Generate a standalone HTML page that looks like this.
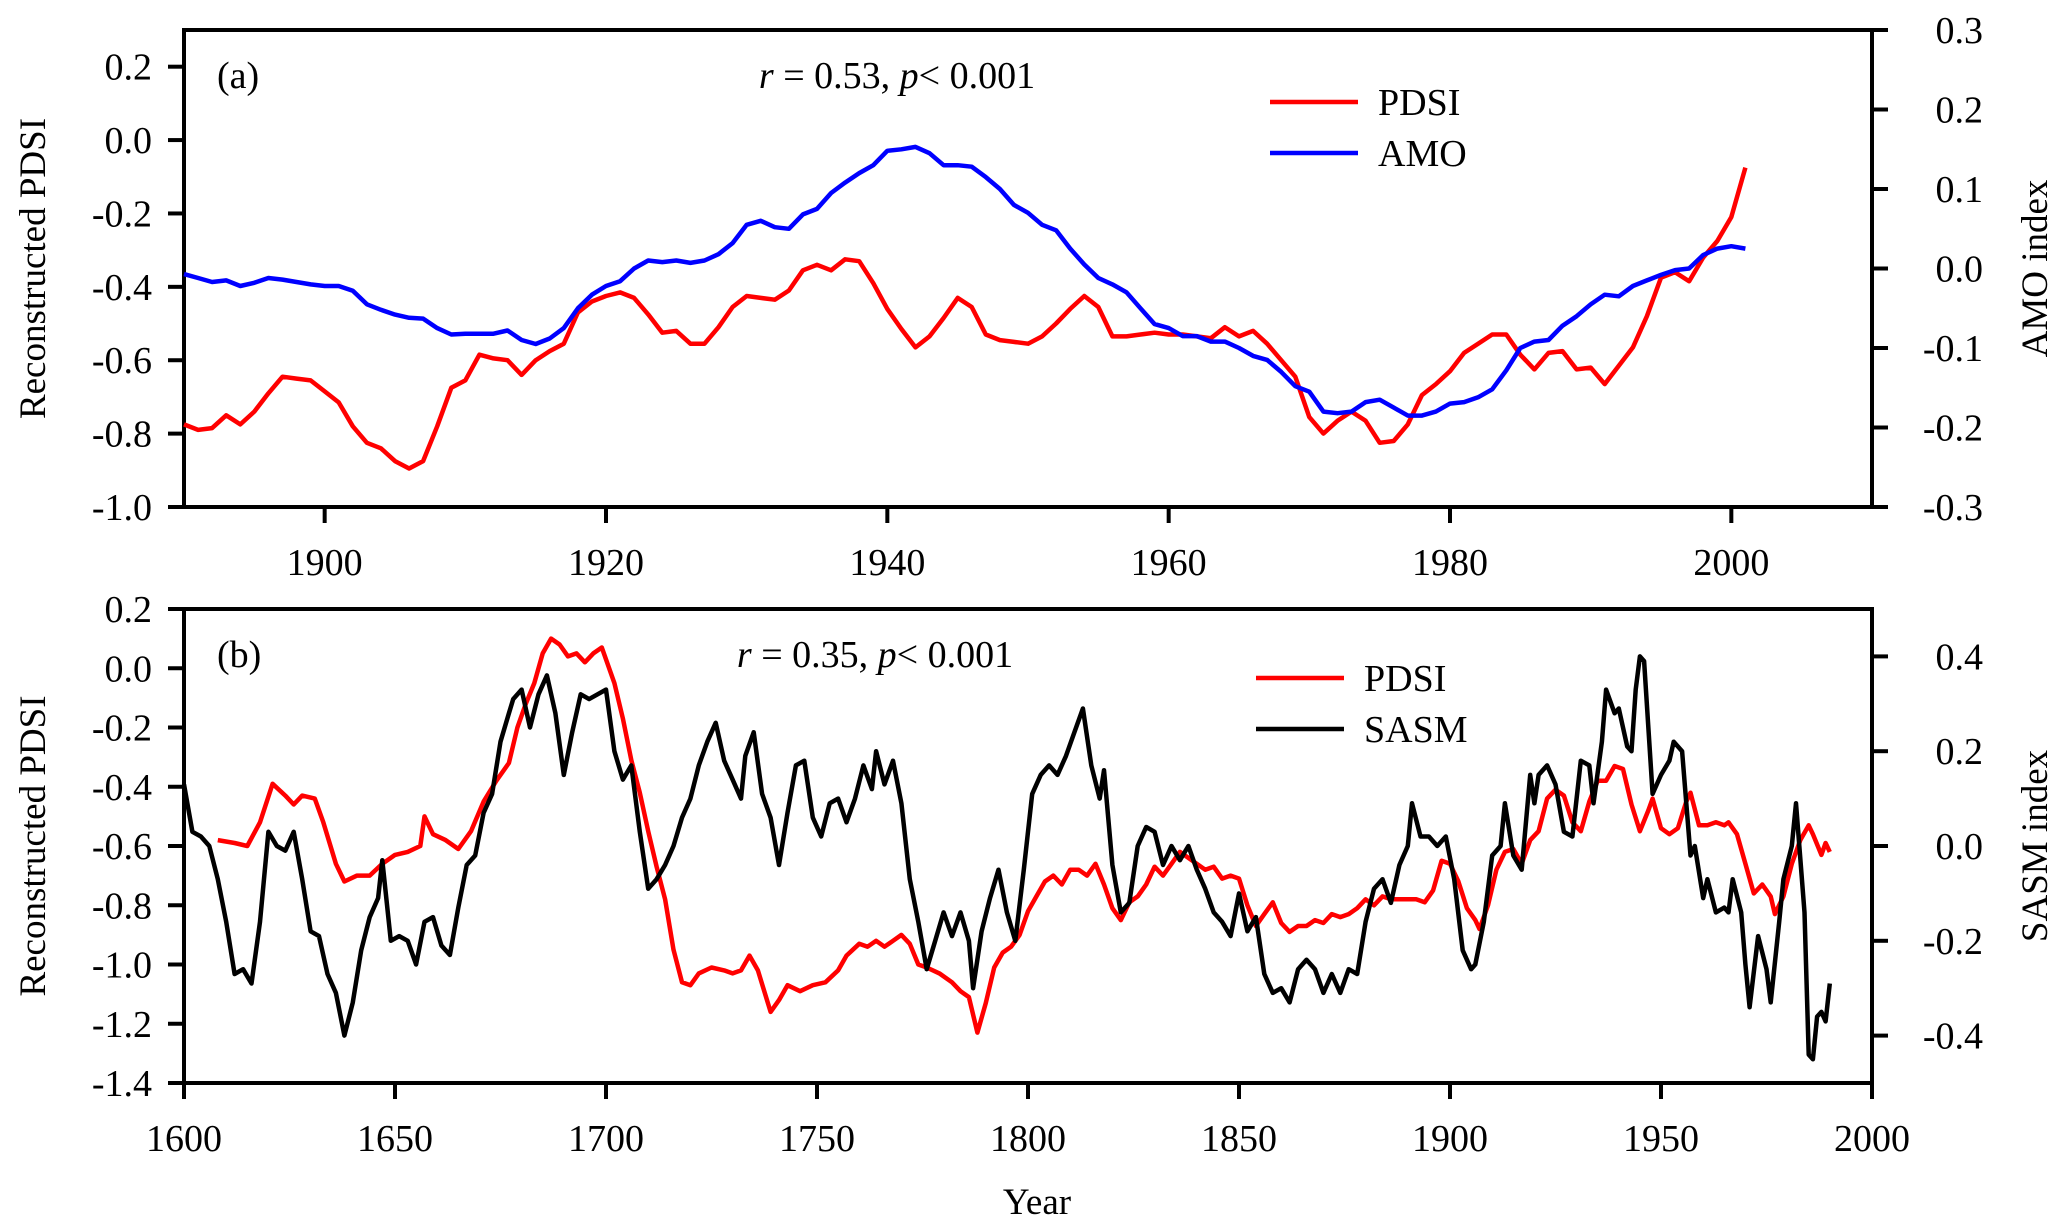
<!DOCTYPE html>
<html><head><meta charset="utf-8"><style>
html,body{margin:0;padding:0;background:#fff;}
svg{display:block;font-family:"Liberation Serif",serif;}
</style></head><body>
<svg id="chart" width="2067" height="1230" viewBox="0 0 2067 1230" xmlns="http://www.w3.org/2000/svg"></svg>
<script>
// ---------- Panel (a) data ----------
const yearsA = [];
for (let y = 1890; y <= 2001; y++) yearsA.push(y);
const pdsiA = [-0.775,-0.79,-0.785,-0.75,-0.775,-0.74,-0.69,-0.645,-0.65,-0.655,-0.685,-0.715,-0.78,-0.825,-0.84,-0.875,-0.895,-0.875,-0.78,-0.675,-0.655,-0.585,-0.595,-0.6,-0.64,-0.6,-0.575,-0.555,-0.47,-0.44,-0.425,-0.415,-0.43,-0.475,-0.525,-0.52,-0.555,-0.555,-0.51,-0.455,-0.425,-0.43,-0.435,-0.41,-0.355,-0.34,-0.355,-0.325,-0.33,-0.39,-0.46,-0.515,-0.565,-0.535,-0.485,-0.43,-0.455,-0.53,-0.545,-0.55,-0.555,-0.535,-0.5,-0.46,-0.425,-0.455,-0.535,-0.535,-0.53,-0.525,-0.53,-0.53,-0.535,-0.54,-0.51,-0.535,-0.52,-0.555,-0.6,-0.645,-0.755,-0.8,-0.765,-0.74,-0.765,-0.825,-0.82,-0.775,-0.695,-0.665,-0.63,-0.58,-0.555,-0.53,-0.53,-0.585,-0.625,-0.58,-0.575,-0.625,-0.62,-0.665,-0.615,-0.565,-0.48,-0.375,-0.36,-0.385,-0.32,-0.275,-0.21,-0.075];
const amoA = [-0.007,-0.012,-0.017,-0.015,-0.022,-0.018,-0.012,-0.014,-0.017,-0.02,-0.022,-0.022,-0.028,-0.045,-0.052,-0.058,-0.062,-0.063,-0.075,-0.083,-0.082,-0.082,-0.082,-0.078,-0.09,-0.095,-0.088,-0.075,-0.05,-0.033,-0.022,-0.016,0.0,0.01,0.008,0.01,0.007,0.01,0.018,0.032,0.055,0.06,0.052,0.05,0.068,0.075,0.095,0.108,0.12,0.13,0.148,0.15,0.153,0.145,0.13,0.13,0.128,0.115,0.1,0.08,0.07,0.055,0.048,0.025,0.005,-0.012,-0.02,-0.03,-0.05,-0.07,-0.075,-0.085,-0.085,-0.092,-0.092,-0.1,-0.11,-0.115,-0.13,-0.148,-0.155,-0.18,-0.182,-0.18,-0.168,-0.165,-0.175,-0.185,-0.185,-0.18,-0.17,-0.168,-0.162,-0.152,-0.128,-0.1,-0.092,-0.09,-0.072,-0.06,-0.045,-0.033,-0.035,-0.022,-0.015,-0.008,-0.002,0.0,0.017,0.025,0.028,0.025];
const xTicksA = [1900,1920,1940,1960,1980,2000];
const yTicksAL = [-1.0,-0.8,-0.6,-0.4,-0.2,0.0,0.2];
const yTicksAR = [-0.3,-0.2,-0.1,0.0,0.1,0.2,0.3];

// ---------- Panel (b) data ----------
const yearsPB = [1608,1612,1615,1618,1621,1624,1626,1628,1631,1633,1636,1638,1641,1644,1647,1650,1653,1656,1657,1659,1662,1665,1668,1671,1674,1677,1679,1681,1683,1685,1687,1689,1691,1693,1695,1697,1699,1702,1704,1706,1708,1710,1712,1714,1716,1718,1720,1722,1725,1728,1730,1732,1734,1736,1739,1741,1743,1746,1749,1752,1755,1757,1760,1762,1764,1766,1768,1770,1772,1774,1776,1779,1782,1784,1786,1788,1790,1792,1794,1796,1798,1800,1802,1804,1806,1808,1810,1812,1814,1816,1818,1820,1822,1824,1826,1828,1830,1832,1834,1836,1838,1840,1842,1844,1846,1848,1850,1852,1854,1856,1858,1860,1862,1864,1866,1868,1870,1872,1874,1876,1878,1880,1882,1884,1886,1888,1890,1892,1894,1896,1898,1900,1902,1904,1906,1907,1909,1911,1913,1915,1917,1919,1921,1923,1925,1927,1929,1931,1933,1935,1937,1939,1941,1943,1945,1947,1948,1950,1952,1954,1956,1957,1959,1961,1963,1965,1966,1968,1970,1972,1974,1976,1977,1979,1981,1983,1985,1986,1988,1989,1990];
const pdsiB = [-0.58,-0.59,-0.6,-0.52,-0.39,-0.43,-0.46,-0.43,-0.44,-0.52,-0.66,-0.72,-0.7,-0.7,-0.66,-0.63,-0.62,-0.6,-0.5,-0.56,-0.58,-0.61,-0.55,-0.45,-0.38,-0.32,-0.2,-0.12,-0.05,0.05,0.1,0.08,0.04,0.05,0.02,0.05,0.07,-0.05,-0.17,-0.31,-0.42,-0.55,-0.67,-0.78,-0.95,-1.06,-1.07,-1.03,-1.01,-1.02,-1.03,-1.02,-0.97,-1.02,-1.16,-1.12,-1.07,-1.09,-1.07,-1.06,-1.02,-0.97,-0.93,-0.94,-0.92,-0.94,-0.92,-0.9,-0.93,-1.0,-1.01,-1.03,-1.06,-1.09,-1.11,-1.23,-1.13,-1.01,-0.96,-0.94,-0.9,-0.82,-0.77,-0.72,-0.7,-0.73,-0.68,-0.68,-0.7,-0.66,-0.73,-0.81,-0.85,-0.79,-0.77,-0.73,-0.67,-0.7,-0.66,-0.62,-0.64,-0.66,-0.68,-0.67,-0.71,-0.7,-0.71,-0.8,-0.87,-0.83,-0.79,-0.86,-0.89,-0.87,-0.87,-0.85,-0.86,-0.83,-0.84,-0.83,-0.81,-0.78,-0.8,-0.77,-0.78,-0.78,-0.78,-0.78,-0.79,-0.75,-0.65,-0.66,-0.72,-0.81,-0.85,-0.88,-0.8,-0.68,-0.62,-0.61,-0.66,-0.58,-0.55,-0.44,-0.41,-0.43,-0.52,-0.55,-0.45,-0.38,-0.38,-0.33,-0.34,-0.46,-0.55,-0.48,-0.44,-0.54,-0.56,-0.54,-0.45,-0.42,-0.53,-0.53,-0.52,-0.53,-0.52,-0.56,-0.66,-0.76,-0.73,-0.77,-0.83,-0.77,-0.66,-0.58,-0.53,-0.56,-0.63,-0.59,-0.62];
const yearsSB = [1600,1602,1604,1606,1608,1610,1612,1614,1616,1618,1620,1622,1624,1626,1628,1630,1632,1634,1636,1638,1640,1642,1644,1646,1647,1649,1651,1653,1655,1657,1659,1661,1663,1665,1667,1669,1671,1673,1675,1677,1678,1680,1682,1684,1686,1688,1690,1692,1694,1696,1698,1700,1702,1704,1706,1708,1710,1712,1714,1716,1718,1720,1722,1724,1726,1728,1730,1732,1733,1735,1737,1739,1741,1743,1745,1747,1749,1751,1753,1755,1757,1759,1761,1763,1764,1766,1768,1770,1772,1774,1776,1778,1780,1782,1784,1786,1787,1789,1791,1793,1795,1797,1799,1801,1803,1805,1807,1809,1811,1813,1815,1817,1818,1820,1822,1824,1826,1828,1830,1832,1834,1836,1838,1840,1842,1844,1846,1848,1850,1852,1854,1856,1858,1860,1862,1864,1866,1868,1870,1872,1874,1876,1878,1880,1882,1884,1886,1888,1890,1891,1893,1895,1897,1899,1901,1903,1905,1906,1908,1910,1912,1913,1915,1917,1919,1920,1921,1923,1925,1927,1929,1931,1933,1934,1936,1937,1939,1940,1942,1943,1944,1945,1946,1948,1950,1952,1953,1955,1957,1958,1960,1961,1963,1965,1966,1967,1969,1970,1971,1973,1975,1976,1978,1979,1981,1982,1984,1985,1986,1987,1988,1989,1990];
const sasmB = [0.13,0.03,0.02,0.0,-0.07,-0.16,-0.27,-0.26,-0.29,-0.16,0.03,0.0,-0.01,0.03,-0.07,-0.18,-0.19,-0.27,-0.31,-0.4,-0.33,-0.22,-0.15,-0.11,-0.03,-0.2,-0.19,-0.2,-0.25,-0.16,-0.15,-0.21,-0.23,-0.13,-0.04,-0.02,0.07,0.11,0.22,0.28,0.31,0.33,0.25,0.32,0.36,0.28,0.15,0.24,0.32,0.31,0.32,0.33,0.2,0.14,0.17,0.03,-0.09,-0.07,-0.04,0.0,0.06,0.1,0.17,0.22,0.26,0.18,0.14,0.1,0.19,0.24,0.11,0.06,-0.04,0.07,0.17,0.18,0.06,0.02,0.09,0.1,0.05,0.1,0.17,0.12,0.2,0.13,0.18,0.09,-0.07,-0.16,-0.26,-0.2,-0.14,-0.19,-0.14,-0.2,-0.3,-0.18,-0.11,-0.05,-0.14,-0.2,-0.05,0.11,0.15,0.17,0.15,0.19,0.24,0.29,0.17,0.1,0.16,-0.04,-0.14,-0.12,0.0,0.04,0.03,-0.04,0.0,-0.03,0.0,-0.05,-0.09,-0.14,-0.16,-0.19,-0.1,-0.18,-0.15,-0.27,-0.31,-0.3,-0.33,-0.26,-0.24,-0.26,-0.31,-0.27,-0.31,-0.26,-0.27,-0.16,-0.09,-0.07,-0.12,-0.04,0.0,0.09,0.02,0.02,0.0,0.02,-0.07,-0.22,-0.26,-0.25,-0.16,-0.02,0.0,0.09,-0.02,-0.05,0.15,0.09,0.15,0.17,0.13,0.03,0.02,0.18,0.17,0.09,0.22,0.33,0.28,0.29,0.21,0.2,0.33,0.4,0.39,0.11,0.15,0.18,0.22,0.2,-0.02,0.0,-0.11,-0.07,-0.14,-0.13,-0.14,-0.07,-0.14,-0.25,-0.34,-0.19,-0.26,-0.33,-0.16,-0.07,0.0,0.09,-0.14,-0.44,-0.45,-0.36,-0.35,-0.37,-0.29];
const xTicksB = [1600,1650,1700,1750,1800,1850,1900,1950,2000];
const yTicksBL = [-1.4,-1.2,-1.0,-0.8,-0.6,-0.4,-0.2,0.0,0.2];
const yTicksBR = [-0.4,-0.2,0.0,0.2,0.4];

const NS = 'http://www.w3.org/2000/svg';
const svg = document.getElementById('chart');
function mk(tag, attrs, parent) {
  const e = document.createElementNS(NS, tag);
  for (const k in attrs) e.setAttribute(k, attrs[k]);
  (parent || svg).appendChild(e);
  return e;
}
function fmt(v){ return (v < 0 ? '-' : '') + Math.abs(v).toFixed(1); }

const L = 184, R = 1872;
const FS = 38;
function linScale(d0, d1, r0, r1){ return v => r0 + (v - d0) * (r1 - r0) / (d1 - d0); }

function panel(cfg) {
  const g = mk('g', {});
  
  
  const x = linScale(cfg.x0, cfg.x1, L, R);
  const yl = linScale(cfg.yl0, cfg.yl1, cfg.bottom, cfg.top);
  const yr = linScale(cfg.yr0, cfg.yr1, cfg.bottom, cfg.top);
  const fr = mk('rect', {x:L, y:cfg.top, width:R-L, height:cfg.bottom-cfg.top, fill:'none', stroke:'#000', 'stroke-width':4}, g);
  
  
  cfg.xTicks.forEach(t => {
    const px = x(t);
    mk('line', {x1:px, x2:px, y1:cfg.bottom, y2:cfg.bottom+16, stroke:'#000', 'stroke-width':4}, g);
    const tx = mk('text', {x:px, y:cfg.bottom+68, 'font-size':FS, 'text-anchor':'middle'}, g);
    tx.textContent = t;
    
    
  });
  cfg.ylTicks.forEach(t => {
    const py = yl(t);
    mk('line', {x1:L-16, x2:L, y1:py, y2:py, stroke:'#000', 'stroke-width':4}, g);
    const tx = mk('text', {x:L-32, y:py+13, 'font-size':FS, 'text-anchor':'end'}, g);
    tx.textContent = fmt(t);
    
    
  });
  cfg.yrTicks.forEach(t => {
    const py = yr(t);
    mk('line', {x1:R, x2:R+16, y1:py, y2:py, stroke:'#000', 'stroke-width':4}, g);
    const tx = mk('text', {x:R+111, y:py+13, 'font-size':FS, 'text-anchor':'end'}, g);
    tx.textContent = fmt(t);
    
    
  });
  const mid = (cfg.top + cfg.bottom) / 2;
  const lt = mk('text', {x:0, y:0, 'font-size':37, 'text-anchor':'middle', transform:`translate(45,${mid}) rotate(-90)`}, g);
  lt.textContent = 'Reconstructed PDSI';
  
  
  const rt = mk('text', {x:0, y:0, 'font-size':37, 'text-anchor':'middle', transform:`translate(2047,${mid}) rotate(-90)`}, g);
  rt.textContent = cfg.rightTitle;
  
  
  cfg.series.forEach(s => {
    const sc = s.axis === 'left' ? yl : yr;
    const d = s.years.map((yy, i) => (i ? 'L' : 'M') + x(yy).toFixed(1) + ',' + sc(s.values[i]).toFixed(1)).join(' ');
    const p = mk('path', {d:d, fill:'none', stroke:s.color, 'stroke-width':4.5, 'stroke-linejoin':'round'}, g);
    
    
  });
  const pl = mk('text', {x:217, y:cfg.top+58, 'font-size':FS}, g);
  pl.textContent = cfg.label;
  
  
  const st = mk('text', {x:cfg.statX, y:cfg.top+58, 'font-size':FS, 'text-anchor':'middle'}, g);
  st.innerHTML = '<tspan font-style="italic">r</tspan> = ' + cfg.r + ', <tspan font-style="italic">p</tspan>&lt; 0.001';
  
  
  cfg.series.forEach((s, i) => {
    const ly = cfg.legY + i * 51;
    const lg = mk('g', {}, g);
    
    
    mk('line', {x1:cfg.legX, x2:cfg.legX+88, y1:ly, y2:ly, stroke:s.color, 'stroke-width':4.5}, lg);
    const t = mk('text', {x:cfg.legX+108, y:ly+13, 'font-size':FS}, lg);
    t.textContent = s.label;
  });
}

panel({name:'panel-a', top:30, bottom:507, x0:1890, x1:2010, yl0:-1.0, yl1:0.3, yr0:-0.3, yr1:0.3,
  xTicks:xTicksA, ylTicks:yTicksAL, yrTicks:yTicksAR, rightTitle:'AMO index', label:'(a)', r:'0.53', statX:897,
  legX:1270, legY:102,
  series:[{name:'pdsi-line-a', label:'PDSI', years:yearsA, values:pdsiA, color:'#ff0000', axis:'left'},
          {name:'amo-line', label:'AMO', years:yearsA, values:amoA, color:'#0000ff', axis:'right'}]});
panel({name:'panel-b', top:609, bottom:1083, x0:1600, x1:2000, yl0:-1.4, yl1:0.2, yr0:-0.5, yr1:0.5,
  xTicks:xTicksB, ylTicks:yTicksBL, yrTicks:yTicksBR, rightTitle:'SASM index', label:'(b)', r:'0.35', statX:875,
  legX:1256, legY:678,
  series:[{name:'pdsi-line-b', label:'PDSI', years:yearsPB, values:pdsiB, color:'#ff0000', axis:'left'},
          {name:'sasm-line', label:'SASM', years:yearsSB, values:sasmB, color:'#000000', axis:'right'}]});

const xt = mk('text', {x:1037, y:1214, 'font-size':37, 'text-anchor':'middle'});
xt.textContent = 'Year';


</script>
</body></html>
